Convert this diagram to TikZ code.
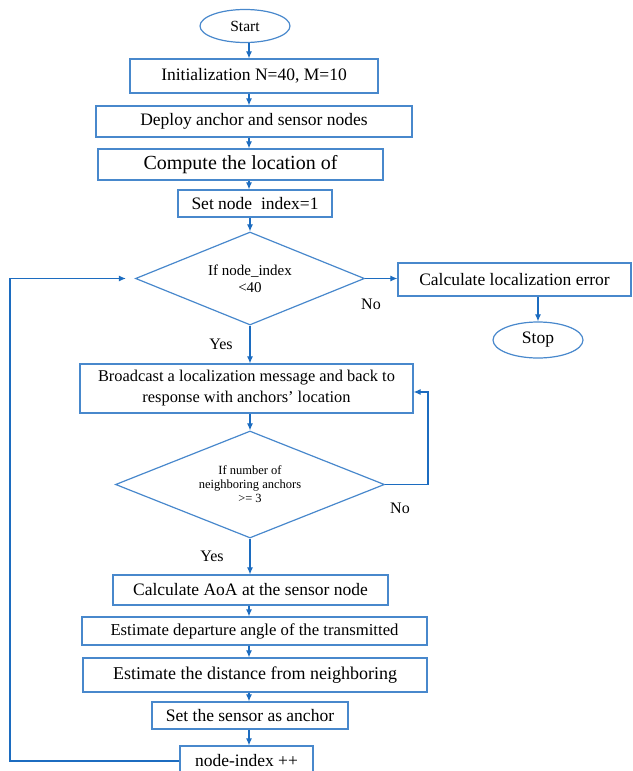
\documentclass[tikz,border=0pt]{standalone}
\usepackage{fontspec}
\setmainfont{Liberation Serif}
\usetikzlibrary{shapes.geometric,arrows.meta,calc}
\definecolor{boxblue}{RGB}{72,136,204}
\definecolor{arrblue}{RGB}{28,108,192}
\tikzset{
  box/.style={draw=boxblue, line width=1.2pt, rectangle, inner sep=0pt, align=center, font=\fontsize{17.5}{20}\selectfont},
  term/.style={draw=boxblue, line width=1.2pt, ellipse, inner sep=0pt, font=\fontsize{15.5}{18}\selectfont},
  dec/.style={draw=boxblue, line width=1.2pt, diamond, inner sep=0pt, align=center},
  arr/.style={draw=arrblue, line width=1.1pt, -{Latex[length=7pt,width=6pt]}},
  lbl/.style={inner sep=0pt, font=\fontsize{16}{18}\selectfont},
}
\begin{document}
\begin{tikzpicture}[x=1pt,y=-1pt]
\useasboundingbox (0,0) rectangle (632,771);
\clip (0,0) rectangle (632,771);
\coordinate (axis) at (249,0);
\coordinate (lp) at (10,0);
\coordinate (rp) at (428,0);

\node[term, minimum width=90, minimum height=33] (start) at (245,26) {Start};
\node[box, minimum width=248, minimum height=34] (init) at (254,76) {Initialization N=40, M=10};
\node[box, minimum width=316, minimum height=31] (deploy) at (254,121.5) {Deploy anchor and sensor nodes};
\node[box, minimum width=285, minimum height=31, font=\fontsize{20}{22}\selectfont] (comp) at (240.5,164.5) {Compute the location of};
\node[box, minimum width=154, minimum height=27] (setidx) at (255,203.5) {Set node\ \ index=1};
\node[dec, shape aspect=2.46, minimum width=229, minimum height=93, font=\fontsize{15}{17}\selectfont] (d1) at (250,278.5) {If node\_index\\<40};
\node[box, minimum width=233, minimum height=33] (calc) at (514.5,279.5) {Calculate localization error};
\node[term, minimum width=90, minimum height=36, font=\fontsize{17.5}{20}\selectfont] (stop) at (538,340) {Stop};
\node[box, minimum width=333, minimum height=49, font=\fontsize{16.4}{21}\selectfont] (bcast) at (246.5,388.5) {Broadcast a localization message and back to\\response with anchors’ location};
\node[dec, shape aspect=2.51, minimum width=269, minimum height=107, font=\fontsize{12.5}{14}\selectfont] (d2) at (250,484.5) {If number of\\neighboring anchors\\>= 3};
\node[box, minimum width=275, minimum height=30] (aoa) at (250.5,590) {Calculate AoA at the sensor node};
\node[box, minimum width=345, minimum height=28, font=\fontsize{16.7}{19}\selectfont] (dep) at (254.5,631) {Estimate departure angle of the transmitted};
\node[box, minimum width=344, minimum height=34, font=\fontsize{18}{20}\selectfont] (dist) at (255,675) {Estimate the distance from neighboring};
\node[box, minimum width=196, minimum height=27] (setanc) at (250,715.5) {Set the sensor as anchor};
\node[box, minimum width=133, minimum height=30] (nidx) at (246.5,761) {node-index ++};

\node[lbl] (no1) at (371,304) {No};
\node[lbl] (yes1) at (221,344) {Yes};
\node[lbl] (no2) at (400,508) {No};
\node[lbl] (yes2) at (212,556) {Yes};

\draw[arr] (start.south -| axis) -- (init.north -| axis);
\draw[arr] (init.south -| axis) -- (deploy.north -| axis);
\draw[arr] (deploy.south -| axis) -- (comp.north -| axis);
\draw[arr] (comp.south -| axis) -- (setidx.north -| axis);
\draw[arr] (setidx.south -| d1) -- (d1.north);
\draw[arr] (d1.east) -- (d1.east -| calc.west);
\draw[arr] (calc.south -| stop) -- (stop.north);
\draw[arr] (d1.south) -- (d1.south |- bcast.north);
\draw[arr] (bcast.south -| d2) -- (d2.north);
\draw[arr] (d2.east) -- (d2.east -| rp) |- ($(bcast.east)+(0,3.5)$);
\draw[arr] (d2.south) -- (d2.south |- aoa.north);
\draw[arr] (aoa.south -| axis) -- (dep.north -| axis);
\draw[arr] (dep.south -| axis) -- (dist.north -| axis);
\draw[arr] (dist.south -| axis) -- (setanc.north -| axis);
\draw[arr] (setanc.south -| axis) -- (nidx.north -| axis);
\draw[arr, shorten >=9pt] (nidx.west) -- (nidx.west -| lp) |- (d1.west);
\end{tikzpicture}
\end{document}
